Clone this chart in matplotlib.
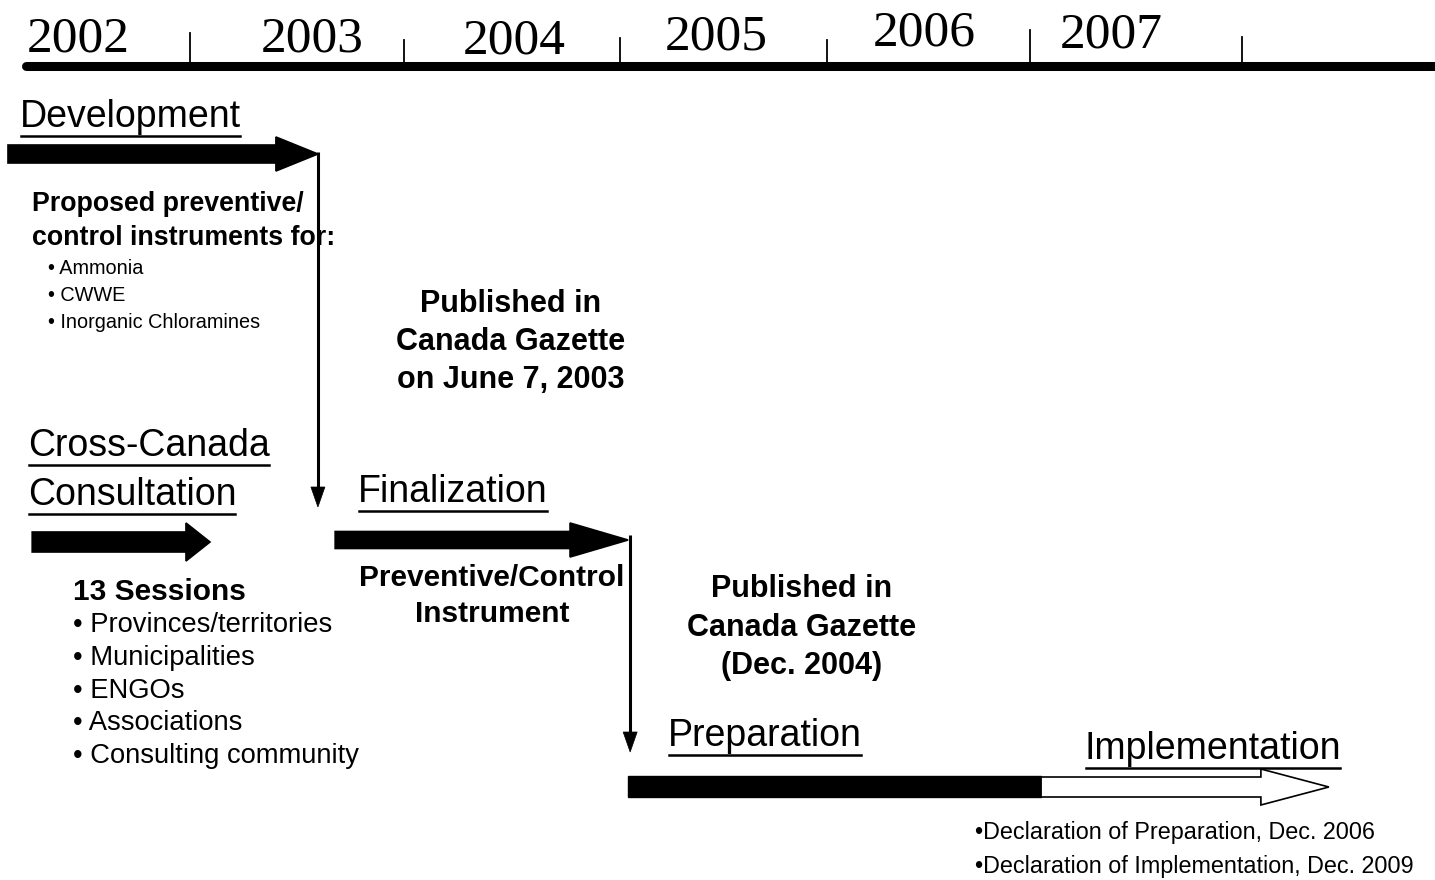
import matplotlib
matplotlib.use('Agg')
import matplotlib.pyplot as plt
from matplotlib.patches import Polygon

# timeline data (x in years, y in pixel rows from the top)
year_labels = ['2002', '2003', '2004', '2005', '2006', '2007']
year_label_x = [2002.47, 2003.58, 2004.54, 2005.50, 2006.49, 2007.38]
year_label_y = [52, 52, 54, 50, 46, 47]
tick_years = [2003, 2004.017, 2005.043, 2006.027, 2006.992, 2008]
tick_tops = [33, 40, 38, 40, 30, 37]

# phase arrows: start, end
dev_span = (2002.135, 2003.608)
consult_span = (2002.25, 2003.095)
final_span = (2003.69, 2005.082)
prep_span = (2005.082, 2007.045)
impl_span = (2007.045, 2008.413)

# headings (text, x, baseline row)
headings = [('Development', 2002.192, 127),
            ('Cross-Canada', 2002.23, 456),
            ('Consultation', 2002.23, 505),
            ('Finalization', 2003.798, 502),
            ('Preparation', 2005.271, 746),
            ('Implementation', 2007.253, 759)]

dev_items = ['Ammonia', 'CWWE', 'Inorganic Chloramines']
session_items = ['Provinces/territories', 'Municipalities', 'ENGOs',
                 'Associations', 'Consulting community']
gazette1 = ['Published in', 'Canada Gazette', 'on June 7, 2003']
gazette2 = ['Published in', 'Canada Gazette', '(Dec. 2004)']
instrument = ['Preventive/Control', 'Instrument']
declarations = ['Declaration of Preparation, Dec. 2006',
                'Declaration of Implementation, Dec. 2009']

PX = 210.4  # pixels per year
X0 = 2003 - 190 / PX
SANS = 'Liberation Sans'
SERIF = 'Liberation Serif'


def block_arrow(ax, x0, x1, y, body_h, head_h, head_len, fc='black', ec='black'):
    hl = head_len / PX
    pts = [(x0, y - body_h / 2), (x1 - hl, y - body_h / 2), (x1 - hl, y - head_h / 2),
           (x1, y), (x1 - hl, y + head_h / 2), (x1 - hl, y + body_h / 2),
           (x0, y + body_h / 2)]
    ax.add_patch(Polygon(pts, closed=True, fc=fc, ec=ec, lw=1.2, joinstyle='miter'))


def down_arrow(ax, x, y0, y1):
    ax.plot([x, x], [y0, y1 - 18], color='black', lw=2.2, solid_capstyle='butt')
    w = 7 / PX
    ax.add_patch(Polygon([(x - w, y1 - 20), (x + w, y1 - 20), (x, y1)],
                         closed=True, fc='black', ec='black', lw=0.5))


fig = plt.figure(figsize=(14.35, 8.8), dpi=100)
ax = fig.add_axes([0, 0, 1, 1])
ax.set_xlim(X0, X0 + 1435 / PX)
ax.set_ylim(880, 0)
ax.axis('off')

# main timeline
ax.plot([X0 + 26 / PX, X0 + 1440 / PX], [66, 66], color='black', lw=6.5,
        solid_capstyle='round')
for t, top in zip(tick_years, tick_tops):
    ax.plot([t, t], [top, 63], color='black', lw=1.3)
for lab, x, y in zip(year_labels, year_label_x, year_label_y):
    ax.text(x, y, lab, fontsize=37, family=SERIF, ha='center', va='baseline')

# arrows
block_arrow(ax, *dev_span, 154, 18, 34, 42)
block_arrow(ax, *consult_span, 542, 20, 38, 24)
block_arrow(ax, *final_span, 540, 17, 34, 58)
ax.add_patch(Polygon([(prep_span[0], 776), (prep_span[1], 776),
                      (prep_span[1], 797), (prep_span[0], 797)],
                     closed=True, fc='black', ec='black'))
block_arrow(ax, *impl_span, 787, 20, 36, 68, fc='white')
down_arrow(ax, dev_span[1], 152, 507)
down_arrow(ax, final_span[1] + 0.01, 535, 752)

# underlined headings
head_texts = []
for txt, x, y in headings:
    head_texts.append(ax.text(x, y, txt, fontsize=27, family=SANS, va='baseline'))
fig.canvas.draw()
renderer = fig.canvas.get_renderer()
inv = ax.transData.inverted()
for t in head_texts:
    bb = t.get_window_extent(renderer)
    (xa, ya), (xb, yb) = inv.transform([(bb.x0 + 1, bb.y0), (bb.x1 - 1, bb.y0)])
    ax.plot([xa, xb], [ya + 1, ya + 1], color='black', lw=1.8)

# development details
ax.text(X0 + 32 / PX, 204, 'Proposed preventive/', fontsize=19.3, family=SANS,
        weight='bold', va='center')
ax.text(X0 + 32 / PX, 238, 'control instruments for:', fontsize=19.3, family=SANS,
        weight='bold', va='center')
for i, item in enumerate(dev_items):
    ax.text(X0 + 48 / PX, 268 + i * 27.5, '\u2022 ' + item, fontsize=14.3,
            family=SANS, va='center')

for i, line in enumerate(gazette1):
    ax.text(X0 + 511 / PX, 304 + i * 38, line, fontsize=22, family=SANS,
            weight='bold', ha='center', va='center')

# consultation details
ax.text(X0 + 73 / PX, 592, '13 Sessions', fontsize=21.5, family=SANS,
        weight='bold', va='center')
for i, item in enumerate(session_items):
    ax.text(X0 + 73 / PX, 625 + i * 32.8, '\u2022 ' + item, fontsize=19.7,
            family=SANS, va='center')

for i, line in enumerate(instrument):
    ax.text(X0 + 492 / PX, 578 + i * 36, line, fontsize=21.5, family=SANS,
            weight='bold', ha='center', va='center')

for i, line in enumerate(gazette2):
    ax.text(X0 + 802 / PX, 589 + i * 38.5, line, fontsize=22, family=SANS,
            weight='bold', ha='center', va='center')

for i, line in enumerate(declarations):
    ax.text(X0 + 975 / PX, 833 + i * 33, '\u2022' + line, fontsize=16.8,
            family=SANS, va='center')

fig.savefig('out.png', dpi=100)
